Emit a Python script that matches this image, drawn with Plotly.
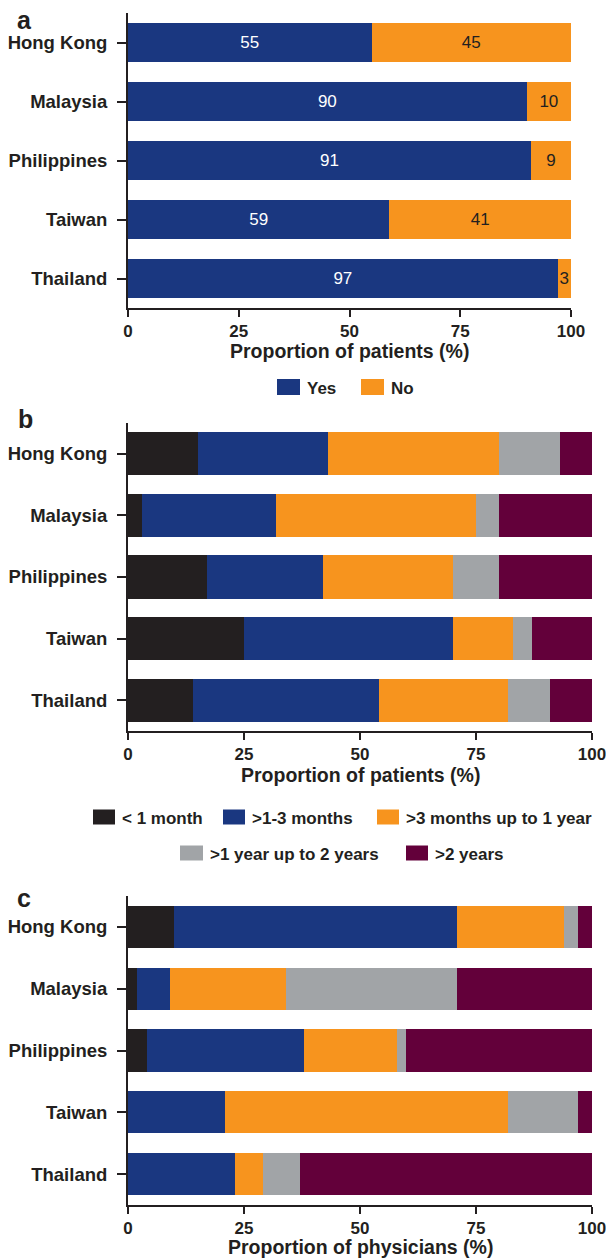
import plotly.graph_objects as go

# ---- data -------------------------------------------------------------
countries = ["Hong Kong", "Malaysia", "Philippines", "Taiwan", "Thailand"]

# panel a: yes / no
yes_vals = [55, 90, 91, 59, 97]
no_vals = [45, 10, 9, 41, 3]

# panels b and c: duration categories
duration_names = ["< 1 month", ">1-3 months", ">3 months up to 1 year",
                  ">1 year up to 2 years", ">2 years"]
patients_lt1m = [15, 3, 17, 25, 14]
patients_1to3m = [28, 29, 25, 45, 40]
patients_3mto1y = [37, 43, 28, 13, 28]
patients_1to2y = [13, 5, 10, 4, 9]
patients_gt2y = [7, 20, 20, 13, 9]

physicians_lt1m = [10, 2, 4, 0, 0]
physicians_1to3m = [61, 7, 34, 21, 23]
physicians_3mto1y = [23, 25, 20, 61, 6]
physicians_1to2y = [3, 37, 2, 15, 8]
physicians_gt2y = [3, 29, 40, 3, 63]

x_ticks = [0, 25, 50, 75, 100]

# ---- styling ----------------------------------------------------------
W, H = 606, 1258
FONT = "Liberation Sans, Arial, Helvetica, sans-serif"
INK = "#231F20"
C_BLACK = "#231F20"
C_BLUE = "#1A3780"
C_ORANGE = "#F7941E"
C_GRAY = "#A1A4A7"
C_MAROON = "#63003A"
duration_colors = [C_BLACK, C_BLUE, C_ORANGE, C_GRAY, C_MAROON]


def px_x(x):
    return x / W


def px_y(y):
    return 1 - y / H


fig = go.Figure()

# panel a
fig.add_trace(go.Bar(
    y=countries, x=yes_vals, orientation="h", name="Yes",
    marker=dict(color=C_BLUE, line=dict(width=0)), width=0.67,
    text=[str(v) for v in yes_vals], textposition="inside",
    insidetextanchor="middle", textangle=0, constraintext="none",
    textfont=dict(color="white", size=17, family=FONT),
    xaxis="x", yaxis="y", showlegend=False, hoverinfo="x+y"))
fig.add_trace(go.Bar(
    y=countries, x=no_vals, orientation="h", name="No",
    marker=dict(color=C_ORANGE, line=dict(width=0)), width=0.67,
    text=[str(v) for v in no_vals], textposition="inside",
    insidetextanchor="middle", textangle=0, constraintext="none",
    textfont=dict(color=INK, size=17, family=FONT),
    xaxis="x", yaxis="y", showlegend=False, hoverinfo="x+y"))

# panels b and c
patients = [patients_lt1m, patients_1to3m, patients_3mto1y, patients_1to2y, patients_gt2y]
physicians = [physicians_lt1m, physicians_1to3m, physicians_3mto1y, physicians_1to2y, physicians_gt2y]
for series, ax, bw in ((patients, "2", 0.70), (physicians, "3", 0.68)):
    for name, vals, col in zip(duration_names, series, duration_colors):
        fig.add_trace(go.Bar(
            y=countries, x=vals, orientation="h", name=name,
            marker=dict(color=col, line=dict(width=0)), width=bw,
            xaxis="x" + ax, yaxis="y" + ax, showlegend=False,
            hoverinfo="x+y"))

# axis placement (pixels): x from left, y from top
panels = {
    "": dict(x0=128, x1=571, y0=13, y1=308),
    "2": dict(x0=128, x1=592, y0=423, y1=731),
    "3": dict(x0=128, x1=592, y0=896, y1=1205),
}

axis_common = dict(showline=True, linewidth=2, linecolor=INK, ticks="outside",
                   ticklen=8, tickwidth=2, tickcolor=INK, showgrid=False,
                   zeroline=False, fixedrange=True, automargin=False,
                   ticklabeloverflow="allow")

layout_axes = {}
for suffix, p in panels.items():
    layout_axes["xaxis" + suffix] = dict(
        axis_common, domain=[px_x(p["x0"]), px_x(p["x1"])],
        anchor="y" + suffix, range=[0, 100], tickvals=x_ticks,
        ticktext=[str(t) for t in x_ticks], ticklen=7,
        tickfont=dict(family=FONT, size=17, color=INK, weight="bold"),
        ticklabelstandoff=0)
    layout_axes["yaxis" + suffix] = dict(
        axis_common, domain=[px_y(p["y1"]), px_y(p["y0"])],
        anchor="x" + suffix, type="category", categoryorder="array",
        categoryarray=countries, range=[4.5, -0.5],
        ticklen=9,
        tickfont=dict(family=FONT, size=18.5, color=INK, weight="bold"),
        ticklabelstandoff=6)

annotations = []
shapes = []

# panel letters
for letter, (lx, ly) in zip("abc", [(24, 20), (25, 419), (24, 898)]):
    annotations.append(dict(
        text=letter, x=px_x(lx), y=px_y(ly), xref="paper", yref="paper",
        xanchor="center", yanchor="middle", showarrow=False,
        font=dict(family=FONT, size=25, color=INK, weight="bold")))

# axis titles
for suffix, title, ty in (("", "Proportion of patients (%)", 351),
                          ("2", "Proportion of patients (%)", 775),
                          ("3", "Proportion of physicians (%)", 1247)):
    p = panels[suffix]
    annotations.append(dict(
        text=title, x=px_x((p["x0"] + p["x1"]) / 2), y=px_y(ty),
        xref="paper", yref="paper", xanchor="center", yanchor="middle",
        showarrow=False,
        font=dict(family=FONT, size=19.5, color=INK, weight="bold")))

# legends: (label, colour, swatch left, swatch width, row centre y)
legend_items = [
    ("Yes", C_BLUE, 277, 23, 387),
    ("No", C_ORANGE, 361, 23, 387),
    (duration_names[0], duration_colors[0], 93, 22, 817),
    (duration_names[1], duration_colors[1], 223, 22, 817),
    (duration_names[2], duration_colors[2], 377, 22, 817),
    (duration_names[3], duration_colors[3], 180, 23, 853),
    (duration_names[4], duration_colors[4], 406, 22, 853),
]
for label, col, sx, sw, cy in legend_items:
    sh = 16 if cy < 400 else 15
    shapes.append(dict(
        type="rect", xref="paper", yref="paper",
        x0=px_x(sx), x1=px_x(sx + sw),
        y0=px_y(cy + sh / 2), y1=px_y(cy - sh / 2),
        fillcolor=col, line=dict(width=0)))
    annotations.append(dict(
        text=label, x=px_x(sx + sw + 5), y=px_y(cy + 1),
        xref="paper", yref="paper", xanchor="left", yanchor="middle",
        showarrow=False,
        font=dict(family=FONT, size=17, color=INK, weight="bold")))

fig.update_layout(
    width=W, height=H,
    margin=dict(l=0, r=0, t=0, b=0, autoexpand=False),
    paper_bgcolor="white", plot_bgcolor="white",
    barmode="stack", bargap=0.3,
    showlegend=False,
    font=dict(family=FONT, color=INK),
    annotations=annotations, shapes=shapes,
    **layout_axes,
)

fig.write_html("out.html")
